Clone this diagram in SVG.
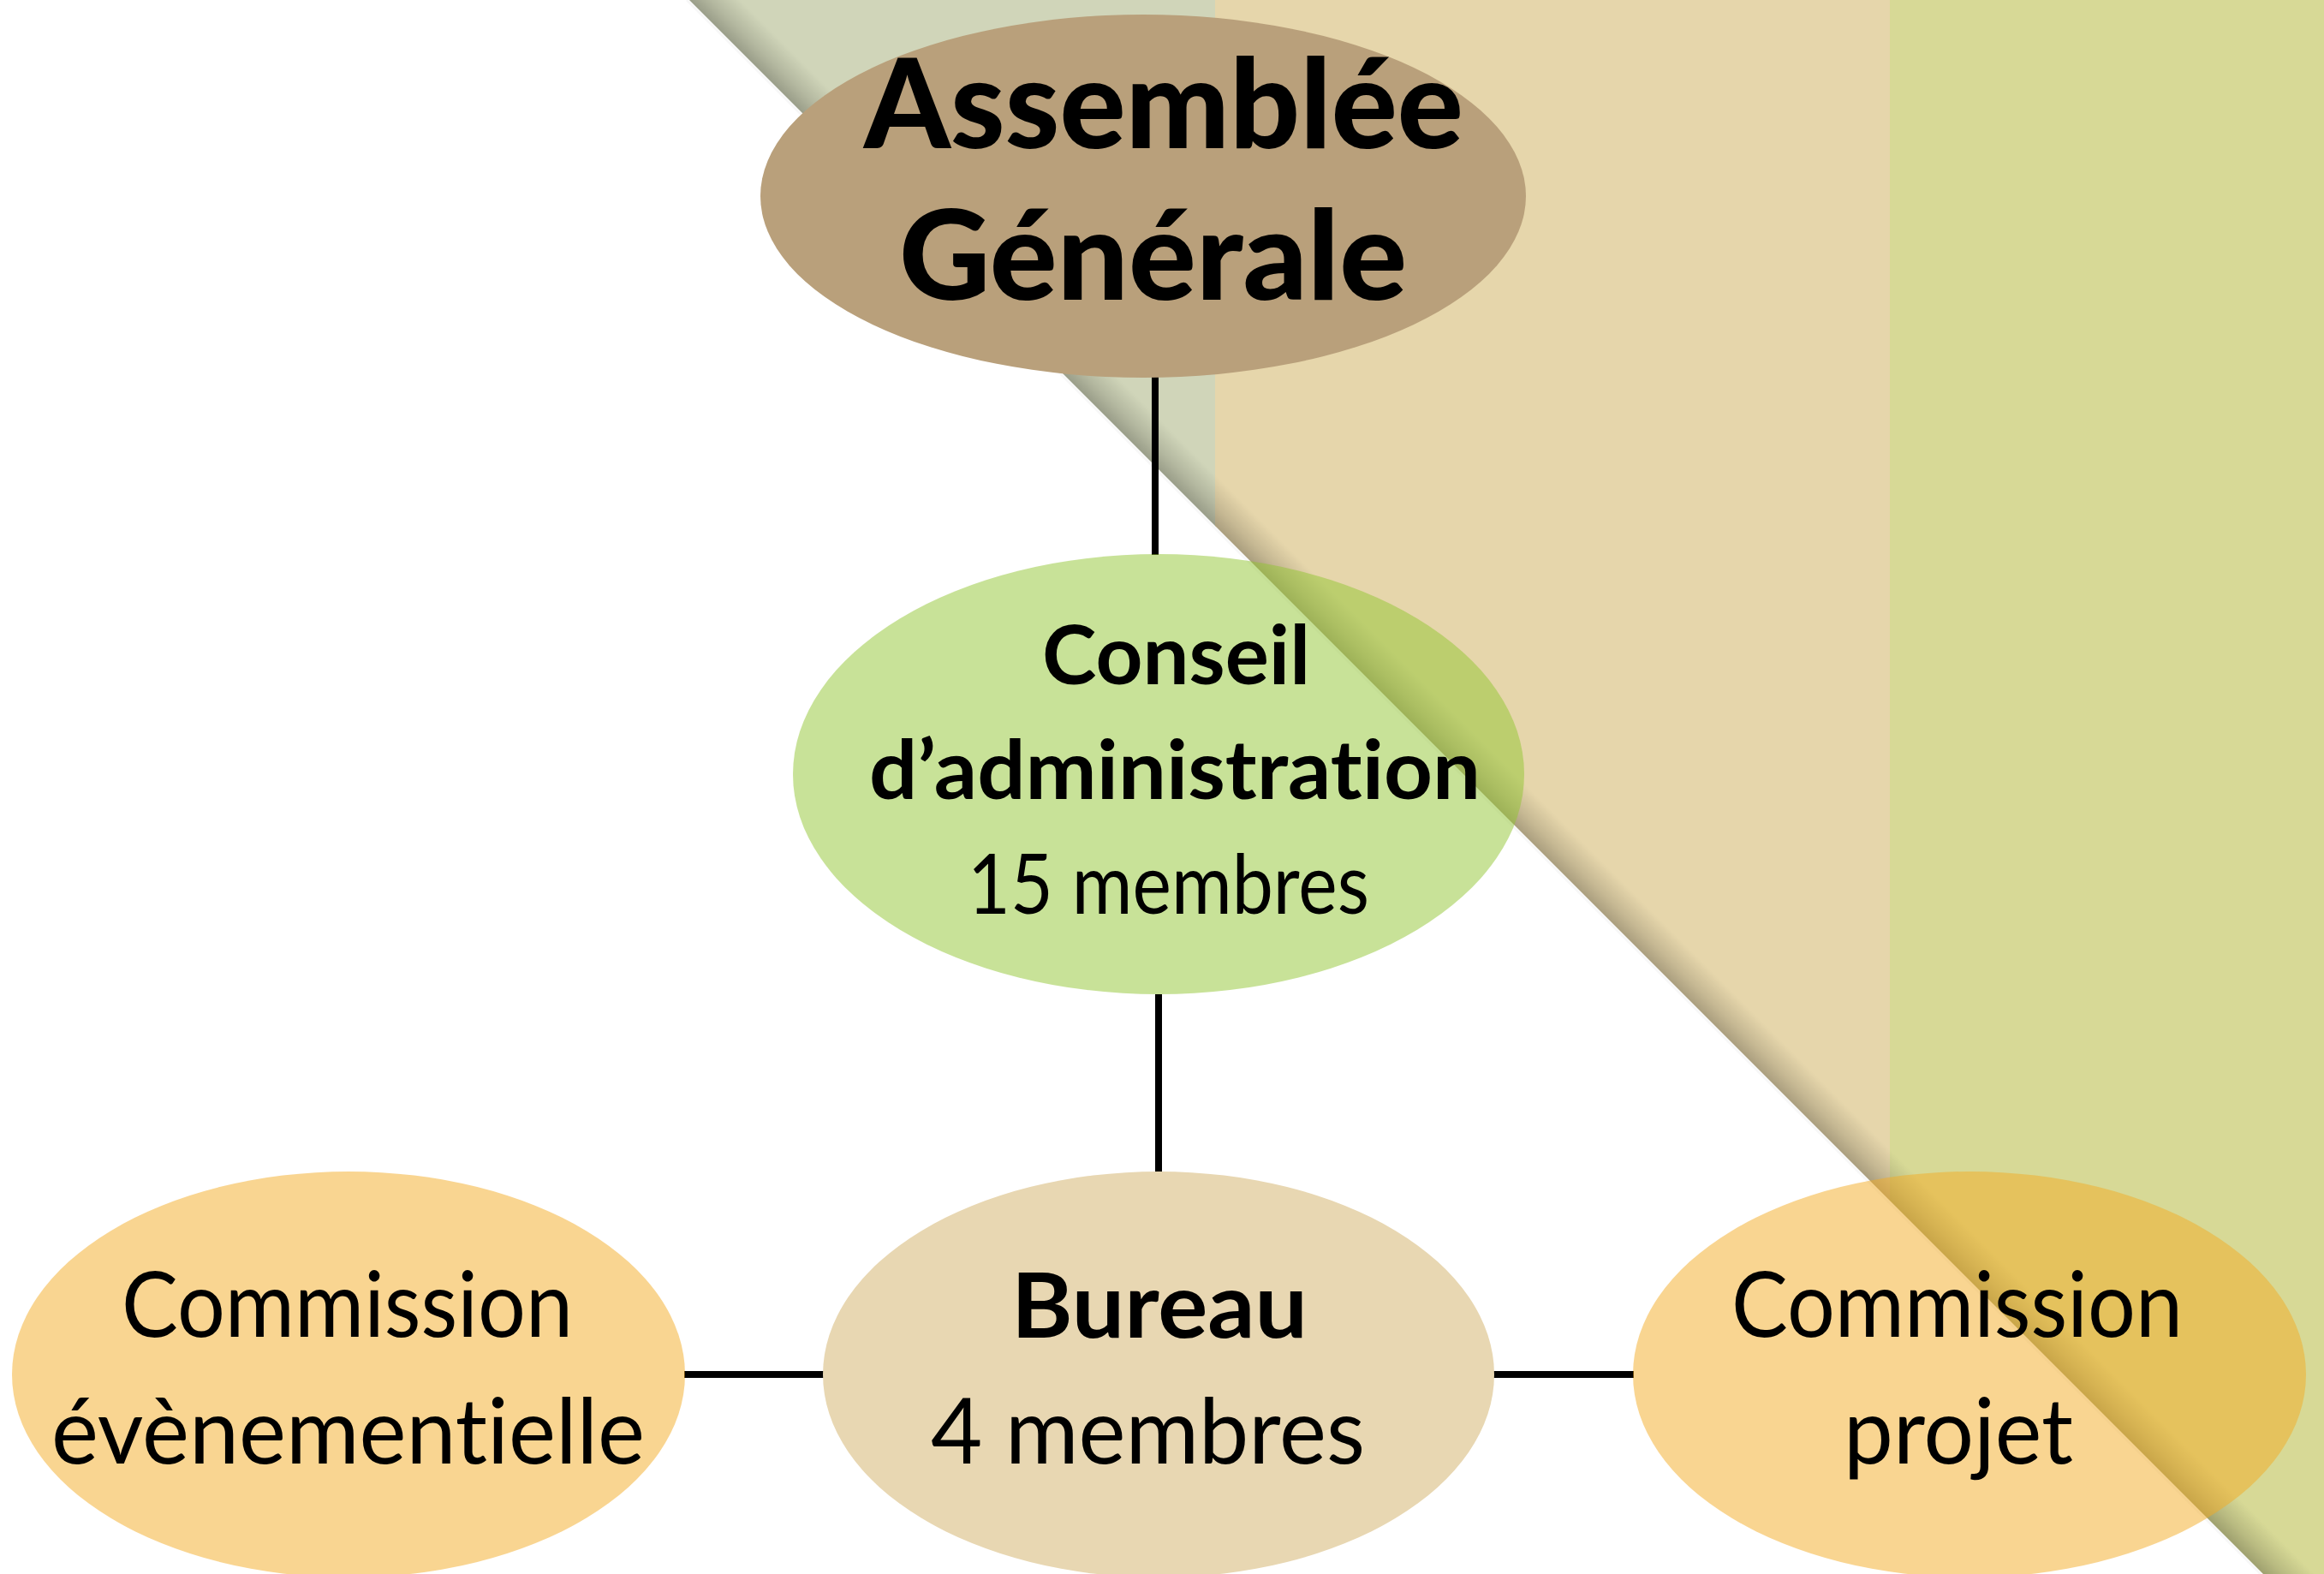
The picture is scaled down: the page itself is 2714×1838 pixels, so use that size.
<svg xmlns="http://www.w3.org/2000/svg" width="2714" height="1838" viewBox="0 0 2714 1838">
  <style>
    .conn { stroke: #000; stroke-width: 8; fill: none; }
    .t { font-family: "Lato", "Liberation Sans", sans-serif; fill: #000; font-variant-ligatures: none; font-feature-settings: "liga" 0, "clig" 0; }
    .b { font-weight: 700; }
    .xb { font-weight: 900; }
    .r { font-weight: 400; }
  </style>
  <defs>
    <clipPath id="band">
      <polygon points="805,0 2714,0 2714,1838 2643,1838"/>
    </clipPath>
    <linearGradient id="shadow" gradientUnits="userSpaceOnUse" x1="805" y1="0" x2="835" y2="-30">
      <stop offset="0" stop-color="#000" stop-opacity="0.26"/>
      <stop offset="0.4" stop-color="#000" stop-opacity="0.14"/>
      <stop offset="1" stop-color="#000" stop-opacity="0"/>
    </linearGradient>
  </defs>

  <g id="background">
    <rect x="0" y="0" width="2714" height="1838" fill="#ffffff"/>
    <g clip-path="url(#band)">
      <rect x="800" y="0" width="620" height="1838" fill="#D0D5B9"/>
      <rect x="1419" y="0" width="788" height="1838" fill="#E6D6AB"/>
      <rect x="2207" y="0" width="507" height="1838" fill="#D7D996"/>
      <rect x="800" y="0" width="1914" height="1838" fill="url(#shadow)"/>
    </g>
    <line x1="802" y1="0" x2="2640" y2="1838" stroke="#000" stroke-opacity="0.03" stroke-width="3"/>
  </g>

  <g id="connectors">
    <line class="conn" x1="1349" y1="430" x2="1349" y2="648"/>
    <line class="conn" x1="1353" y1="1161" x2="1353" y2="1369"/>
    <line class="conn" x1="799" y1="1605" x2="962" y2="1605"/>
    <line class="conn" x1="1744" y1="1605" x2="1908" y2="1605"/>
  </g>

  <g id="node-assemblee">
    <ellipse cx="1335" cy="229" rx="447" ry="212" fill="#B9A07B"/>
    <text class="t xb" x="1009" y="173" font-size="145" textLength="700" lengthAdjust="spacingAndGlyphs">Assemblée</text>
    <text class="t xb" x="1050" y="350" font-size="145" textLength="593" lengthAdjust="spacingAndGlyphs">Générale</text>
  </g>

  <g id="node-conseil">
    <ellipse cx="1353" cy="904" rx="427" ry="257" fill="#91C531" fill-opacity="0.5"/>
    <text class="t b" x="1217" y="799" font-size="96" textLength="313" lengthAdjust="spacingAndGlyphs">Conseil</text>
    <text class="t b" x="1015" y="933" font-size="96" textLength="714" lengthAdjust="spacingAndGlyphs">d’administration</text>
    <text class="t r" x="1130" y="1067" font-size="96" textLength="469" lengthAdjust="spacingAndGlyphs">15 membres</text>
  </g>

  <g id="node-commission-evenementielle">
    <ellipse cx="407" cy="1605" rx="393" ry="237" fill="#F3AB23" fill-opacity="0.5"/>
    <text class="t r" x="142" y="1561" font-size="106" textLength="527" lengthAdjust="spacingAndGlyphs">Commission</text>
    <text class="t r" x="60" y="1709" font-size="106" textLength="693" lengthAdjust="spacingAndGlyphs">évènementielle</text>
  </g>

  <g id="node-bureau">
    <ellipse cx="1353" cy="1605" rx="392" ry="237" fill="#E8D7B2"/>
    <text class="t b" x="1181" y="1562" font-size="106" textLength="346" lengthAdjust="spacingAndGlyphs">Bureau</text>
    <text class="t r" x="1087" y="1709" font-size="106" textLength="507" lengthAdjust="spacingAndGlyphs">4 membres</text>
  </g>

  <g id="node-commission-projet">
    <ellipse cx="2300" cy="1605" rx="393" ry="237" fill="#F3AB23" fill-opacity="0.5"/>
    <text class="t r" x="2022" y="1561" font-size="106" textLength="527" lengthAdjust="spacingAndGlyphs">Commission</text>
    <text class="t r" x="2153" y="1709" font-size="106" textLength="268" lengthAdjust="spacingAndGlyphs">projet</text>
  </g>
</svg>
